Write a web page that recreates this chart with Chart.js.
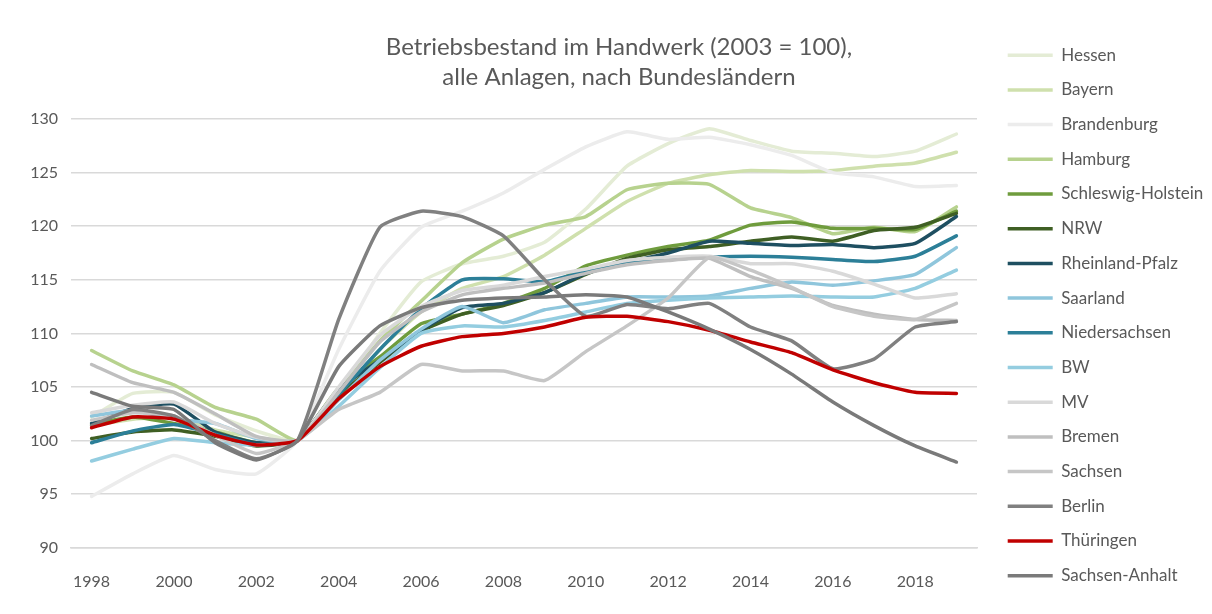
<!DOCTYPE html>
<html>
<head>
<meta charset="utf-8">
<title>Betriebsbestand im Handwerk</title>
<script src="https://cdn.jsdelivr.net/npm/chart.js@4.4.1/dist/chart.umd.min.js"></script>
<style>
    html, body { margin: 0; padding: 0; background: #ffffff; }
    #chart { display: block; }
</style>
</head>
<body>
<canvas id="chart" width="1212" height="614"></canvas>
<script>
// --- data (index 2003 = 100) ---
const years = [1998, 1999, 2000, 2001, 2002, 2003, 2004, 2005, 2006, 2007, 2008,
    2009, 2010, 2011, 2012, 2013, 2014, 2015, 2016, 2017, 2018, 2019];
const tickYears = [1998, 2000, 2002, 2004, 2006, 2008, 2010, 2012, 2014, 2016, 2018];
const yTicks = [90, 95, 100, 105, 110, 115, 120, 125, 130];

const states = ['Hessen', 'Bayern', 'Brandenburg', 'Hamburg', 'Schleswig-Holstein', 'NRW',
    'Rheinland-Pfalz', 'Saarland', 'Niedersachsen', 'BW', 'MV', 'Bremen', 'Sachsen',
    'Berlin', 'Thüringen', 'Sachsen-Anhalt'];

const hessen = [102.2, 104.4, 104.5, 102.4, 100.9, 100, 104.5, 110.0, 114.8, 116.5, 117.2, 118.5, 121.6, 125.6, 127.7, 129.1, 128.0, 127.0, 126.8, 126.5, 127.0, 128.6];
const bayern = [101.4, 102.0, 102.1, 101.0, 100.3, 100, 104.0, 108.5, 112.0, 114.2, 115.3, 117.3, 119.8, 122.3, 124.0, 124.8, 125.2, 125.1, 125.2, 125.6, 125.9, 126.9];
const brandenburg = [94.8, 96.9, 98.6, 97.3, 96.9, 100, 108.5, 115.8, 119.9, 121.4, 123.1, 125.3, 127.4, 128.8, 128.1, 128.3, 127.6, 126.6, 125.0, 124.6, 123.7, 123.8];
const hamburg = [108.4, 106.5, 105.2, 103.1, 102.0, 100, 104.6, 109.3, 113.0, 116.6, 118.8, 120.1, 120.9, 123.4, 124.0, 123.9, 121.7, 120.8, 119.3, 119.9, 119.5, 121.8];
const schleswigHolstein = [101.5, 102.2, 101.6, 100.8, 99.8, 100, 104.9, 107.8, 110.9, 111.8, 112.8, 114.2, 116.3, 117.3, 118.1, 118.7, 120.1, 120.4, 119.8, 119.8, 119.7, 121.4];
const nrw = [100.2, 100.8, 101.0, 100.4, 99.5, 100, 104.2, 107.3, 110.2, 111.8, 112.6, 113.8, 115.5, 117.0, 117.8, 118.1, 118.6, 119.0, 118.6, 119.6, 119.9, 121.2];
const rheinlandPfalz = [101.6, 103.0, 103.4, 100.8, 99.8, 100, 104.8, 107.5, 110.3, 112.4, 112.8, 113.8, 115.6, 116.6, 117.5, 118.6, 118.4, 118.2, 118.3, 118.0, 118.4, 120.9];
const saarland = [102.3, 102.8, 102.0, 101.6, 100.2, 100, 103.8, 107.5, 110.4, 112.5, 111.0, 112.2, 112.8, 113.4, 113.4, 113.5, 114.2, 114.8, 114.5, 114.9, 115.5, 118.0];
const niedersachsen = [99.8, 100.9, 101.5, 100.6, 99.6, 100, 104.3, 108.5, 112.3, 115.0, 115.1, 114.8, 115.8, 116.6, 116.9, 117.1, 117.2, 117.1, 116.9, 116.7, 117.2, 119.1];
const bw = [98.1, 99.2, 100.2, 99.8, 99.6, 100, 103.2, 106.8, 110.0, 110.7, 110.6, 111.2, 112.0, 112.8, 113.1, 113.3, 113.4, 113.5, 113.4, 113.4, 114.2, 115.9];
const mv = [102.6, 103.3, 103.6, 101.6, 100.3, 100, 105.0, 109.8, 112.5, 114.0, 114.5, 115.3, 116.0, 116.8, 117.1, 117.2, 116.5, 116.5, 115.8, 114.6, 113.3, 113.7];
const bremen = [107.1, 105.4, 104.5, 102.5, 100.4, 100, 104.5, 109.2, 112.0, 113.6, 114.2, 114.7, 115.6, 116.4, 116.8, 117.0, 115.3, 114.2, 112.6, 111.8, 111.3, 111.2];
const sachsen = [101.9, 102.6, 102.3, 100.5, 98.8, 100, 102.9, 104.5, 107.1, 106.5, 106.5, 105.6, 108.3, 110.7, 113.3, 117.1, 115.9, 114.3, 112.5, 111.6, 111.3, 112.8];
const berlin = [101.4, 102.9, 102.3, 100.0, 98.3, 100, 111.3, 119.9, 121.4, 120.9, 119.1, 115.0, 111.6, 112.7, 112.3, 112.8, 110.6, 109.3, 106.7, 107.6, 110.6, 111.1];
const thueringen = [101.2, 102.2, 102.0, 100.5, 99.6, 100, 103.9, 106.9, 108.8, 109.7, 110.0, 110.6, 111.5, 111.6, 111.1, 110.3, 109.2, 108.2, 106.6, 105.4, 104.5, 104.4];
const sachsenAnhalt = [104.5, 103.2, 102.9, 99.8, 98.2, 100, 106.9, 110.7, 112.4, 113.1, 113.3, 113.4, 113.6, 113.4, 112.0, 110.4, 108.5, 106.2, 103.6, 101.4, 99.5, 98.0];

const seriesValues = [hessen, bayern, brandenburg, hamburg, schleswigHolstein, nrw,
    rheinlandPfalz, saarland, niedersachsen, bw, mv, bremen, sachsen,
    berlin, thueringen, sachsenAnhalt];

const colors = ['#e4ecd5', '#cfe0ad', '#ececec', '#b7d28e', '#6f9c3d', '#3f5f24',
    '#1e4f61', '#8fc6dc', '#2c7f98', '#94cde0', '#d9d9d9', '#bfbfbf', '#c6c6c6',
    '#808080', '#c00000', '#7a7a7a'];

// --- layout ---
const options = {
    width: 1212,
    plotRight: 977,
    plotLeft: 71,
    font: 'Lato',
    textColor: '#595959',
    gridColor: '#d9d9d9',
    legendFont: 17,
    legendPad: 17.7,
    legendLine: 45,
    legendShift: 13,
    titleCenter: 619,
};

const measure = document.createElement('canvas').getContext('2d');
measure.font = `${options.legendFont}px ${options.font}`;
const longest = Math.max(...states.map(s => measure.measureText(s).width));
// chart.js adds 10px to a vertical legend's width
const legendWidth = options.legendPad + options.legendLine + options.legendFont / 2 + longest + 10;
const padRight = options.width - options.plotRight - legendWidth;

// nudge legend and title to where they sit in the original
const boxShift = {
    id: 'boxShift',
    afterLayout(chart) {
        chart.legend.left += options.legendShift;
        chart.legend.right += options.legendShift;
        const t = chart.titleBlock;
        const d = options.titleCenter - (t.left + t.right) / 2;
        t.left += d;
        t.right += d;
    }
};

Chart.defaults.font.family = options.font;
Chart.defaults.color = options.textColor;

const datasets = states.map((name, i) => ({
    label: name,
    data: seriesValues[i],
    borderColor: colors[i],
    backgroundColor: colors[i],
    borderWidth: 3.5,
    borderCapStyle: 'round',
    borderJoinStyle: 'round',
    pointRadius: 0,
    pointStyle: 'line',
    tension: 0.15,
    fill: false,
    order: states.length - i,
}));

new Chart(document.getElementById('chart'), {
    type: 'line',
    data: { labels: years, datasets },
    plugins: [boxShift],
    options: {
        responsive: false,
        animation: false,
        layout: { padding: { top: 29, bottom: 7, left: 0, right: padRight } },
        plugins: {
            tooltip: { enabled: false },
            title: {
                display: true,
                text: ['Betriebsbestand im Handwerk (2003 = 100),', 'alle Anlagen, nach Bundesländern'],
                color: options.textColor,
                font: { size: 24, weight: 'normal', lineHeight: 30 / 24 },
                padding: { top: 3, bottom: 27 },
            },
            legend: {
                position: 'right',
                align: 'start',
                weight: 3000,
                labels: {
                    usePointStyle: true,
                    pointStyleWidth: options.legendLine,
                    boxHeight: 4,
                    padding: options.legendPad,
                    color: options.textColor,
                    font: { size: options.legendFont },
                    sort: (a, b) => a.datasetIndex - b.datasetIndex,
                },
            },
        },
        scales: {
            x: {
                offset: true,
                grid: { display: false },
                border: { display: true, color: options.gridColor, width: 1.5 },
                ticks: {
                    autoSkip: false,
                    maxRotation: 0,
                    padding: 16,
                    font: { size: 16 },
                    callback: (v, i) => tickYears.includes(years[i]) ? String(years[i]) : '',
                },
            },
            y: {
                min: yTicks[0],
                max: yTicks[yTicks.length - 1],
                grid: { color: options.gridColor, lineWidth: 1.5, drawTicks: false },
                border: { display: false },
                ticks: { stepSize: 5, padding: 13, font: { size: 16 } },
                afterFit(scale) { scale.width = options.plotLeft; },
            },
        },
    },
});
</script>
</body>
</html>
